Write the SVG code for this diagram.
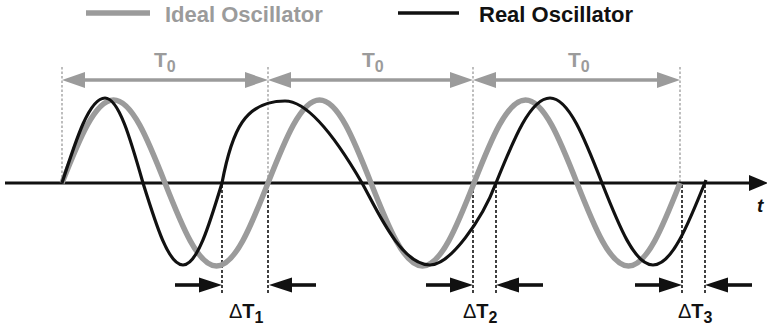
<svg xmlns="http://www.w3.org/2000/svg" width="767" height="327" viewBox="0 0 767 327">
<style>
  text { font-family: "Liberation Sans", Arial, sans-serif; font-weight: bold; }
  .leg { font-size: 22px; }
  .gtxt { fill: #9b9b9b; }
  .btxt { fill: #111; }
  .t0 { font-size: 21px; fill: #9b9b9b; }
  .sub { font-size: 16px; }
  .dt { font-size: 20px; fill: #111; }
  .delta { font-weight: normal; }
  .gdot { stroke: #9b9b9b; stroke-width: 1.3; stroke-dasharray: 2.5 2; fill: none; }
  .bdot { stroke: #111; stroke-width: 1.6; stroke-dasharray: 3 2; fill: none; }
  .garr { stroke: #9b9b9b; stroke-width: 3.6; fill: none; }
  .ghead { fill: #9b9b9b; }
  .barr { stroke: #111; stroke-width: 3.6; fill: none; }
  .bhead { fill: #111; }
  .ideal { stroke: #9b9b9b; stroke-width: 5.5; fill: none; stroke-linejoin: round; }
  .real { stroke: #111; stroke-width: 3.2; fill: none; stroke-linejoin: round; }
</style>

<g id="legend">
  <line x1="86" y1="13" x2="150" y2="13" stroke="#9b9b9b" stroke-width="5.5"/>
  <text class="leg gtxt" x="165" y="21.5">Ideal Oscillator</text>
  <line x1="398" y1="13" x2="459" y2="13" stroke="#111" stroke-width="3.6"/>
  <text class="leg btxt" x="479" y="21.5">Real Oscillator</text>
</g>

<g id="guides">
  <line class="gdot" x1="62" y1="67" x2="62" y2="183"/>
  <line class="gdot" x1="268" y1="67" x2="268" y2="183"/>
  <line class="gdot" x1="473" y1="67" x2="473" y2="183"/>
  <line class="gdot" x1="680" y1="67" x2="680" y2="183"/>
  <line class="bdot" x1="222" y1="185" x2="222" y2="293"/>
  <line class="bdot" x1="268" y1="185" x2="268" y2="293"/>
  <line class="bdot" x1="473" y1="185" x2="473" y2="293"/>
  <line class="bdot" x1="496" y1="185" x2="496" y2="293"/>
  <line class="bdot" x1="682" y1="185" x2="682" y2="293"/>
  <line class="bdot" x1="705" y1="185" x2="705" y2="293"/>
</g>

<g id="axis">
  <line x1="5" y1="183" x2="752" y2="183" stroke="#111" stroke-width="3.2"/>
  <polygon points="768,183 749,175 749,191" fill="#111"/>
  <text x="757" y="212" font-size="19" font-style="italic" fill="#111">t</text>
</g>

<g id="ideal-wave">
  <path class="ideal" d="M62,183 C79.2,139.4 95,100 113.5,100 C132,100 147.8,139.4 165,183 C182.2,226.6 198,266 216.5,266 C235,266 250.8,226.6 268,183 C285.2,139.4 301,100 319.5,100 C338,100 353.8,139.4 371,183 C388.2,226.6 404,266 422.5,266 C441,266 456.8,226.6 474,183 C491.2,139.4 507,100 525.5,100 C544,100 559.8,139.4 577,183 C594.2,226.6 610,266 628.5,266 C647,266 662.8,226.6 680,183"/>
</g>

<g id="real-wave">
  <path class="real" d="M62,183 C76.4,138.4 89.5,98 105,98 C118.7,98 130.3,138.4 143,183 C156.4,226 168.6,265 183,265 C197,265 209,226 222,183 C232,130 245,101 285,101 C310,101 340,145 362,183 C375,205.5 400,265 430,265 C450,265 482,220 496,183 C514,138.4 530.6,98 550,98 C568.7,98 584.6,138.4 602,183 C619,226 634.6,265 653,265 C671.7,265 687.6,226 706,180"/>
</g>

<g id="period-arrows">
  <line class="garr" x1="82" y1="80" x2="248" y2="80"/>
  <polygon class="ghead" points="62,80 85,72 85,88"/>
  <polygon class="ghead" points="268,80 245,72 245,88"/>
  <text class="t0" x="154" y="66.5">T<tspan class="sub" dy="5">0</tspan></text>

  <line class="garr" x1="288" y1="80" x2="453" y2="80"/>
  <polygon class="ghead" points="268,80 291,72 291,88"/>
  <polygon class="ghead" points="473,80 450,72 450,88"/>
  <text class="t0" x="362" y="66.5">T<tspan class="sub" dy="5">0</tspan></text>

  <line class="garr" x1="493" y1="80" x2="660" y2="80"/>
  <polygon class="ghead" points="473,80 496,72 496,88"/>
  <polygon class="ghead" points="680,80 657,72 657,88"/>
  <text class="t0" x="568" y="66.5">T<tspan class="sub" dy="5">0</tspan></text>
</g>

<g id="delta-arrows">
  <line class="barr" x1="175" y1="285" x2="202" y2="285"/>
  <polygon class="bhead" points="222,285 199,277.5 199,292.5"/>
  <line class="barr" x1="316" y1="285" x2="289" y2="285"/>
  <polygon class="bhead" points="269,285 292,277.5 292,292.5"/>
  <text class="dt" x="229" y="318"><tspan class="delta">Δ</tspan>T<tspan class="sub" dy="5">1</tspan></text>

  <line class="barr" x1="426" y1="285" x2="453" y2="285"/>
  <polygon class="bhead" points="473,285 450,277.5 450,292.5"/>
  <line class="barr" x1="543" y1="285" x2="516" y2="285"/>
  <polygon class="bhead" points="496,285 519,277.5 519,292.5"/>
  <text class="dt" x="463" y="318"><tspan class="delta">Δ</tspan>T<tspan class="sub" dy="5">2</tspan></text>

  <line class="barr" x1="635" y1="285" x2="662" y2="285"/>
  <polygon class="bhead" points="682,285 659,277.5 659,292.5"/>
  <line class="barr" x1="752" y1="285" x2="725" y2="285"/>
  <polygon class="bhead" points="705,285 728,277.5 728,292.5"/>
  <text class="dt" x="678" y="318"><tspan class="delta">Δ</tspan>T<tspan class="sub" dy="5">3</tspan></text>
</g>
</svg>
